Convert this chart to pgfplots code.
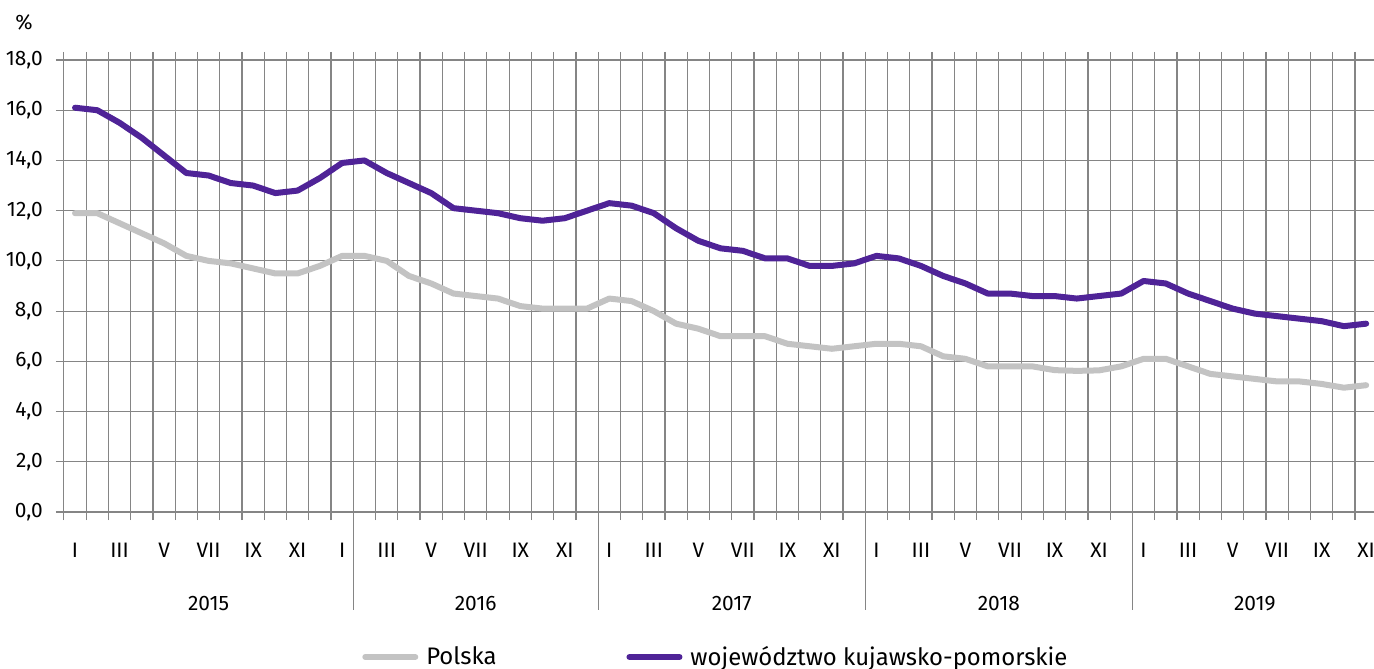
\documentclass[border=0pt]{standalone}
\usepackage{fontspec}
\setmainfont{Fira Sans}
\usepackage{pgfplots}
\usepackage{pgfplotstable}
\pgfplotsset{compat=1.18}
\definecolor{kpPurple}{HTML}{4F2397}
\definecolor{plGrey}{HTML}{C3C3C3}
\definecolor{gridGrey}{HTML}{858585}

% k = month index from I 2015; pl = Polska, kp = kujawsko-pomorskie
\pgfplotstableread{
k pl kp
0 11.9 16.1
1 11.9 16.0
2 11.5 15.5
3 11.1 14.9
4 10.7 14.2
5 10.2 13.5
6 10.0 13.4
7 9.9 13.1
8 9.7 13.0
9 9.5 12.7
10 9.5 12.8
11 9.8 13.3
12 10.2 13.9
13 10.2 14.0
14 10.0 13.5
15 9.4 13.1
16 9.1 12.7
17 8.7 12.1
18 8.6 12.0
19 8.5 11.9
20 8.2 11.7
21 8.1 11.6
22 8.1 11.7
23 8.1 12.0
24 8.5 12.3
25 8.4 12.2
26 8.0 11.9
27 7.5 11.3
28 7.3 10.8
29 7.0 10.5
30 7.0 10.4
31 7.0 10.1
32 6.7 10.1
33 6.6 9.8
34 6.5 9.8
35 6.6 9.9
36 6.7 10.2
37 6.7 10.1
38 6.6 9.8
39 6.2 9.4
40 6.1 9.1
41 5.8 8.7
42 5.8 8.7
43 5.8 8.6
44 5.65 8.6
45 5.62 8.5
46 5.64 8.6
47 5.8 8.7
48 6.1 9.2
49 6.1 9.1
50 5.8 8.7
51 5.5 8.4
52 5.4 8.1
53 5.3 7.9
54 5.2 7.8
55 5.2 7.7
56 5.1 7.6
57 4.95 7.4
58 5.05 7.5
}\unemp

\begin{document}
\begin{tikzpicture}
\begin{axis}[
    name=ax, at={(0,0)}, anchor=south west,
    scale only axis, width=656.7bp, height=226bp,
    xmin=-0.5, xmax=58.5, ymin=0, ymax=18,
    axis line style={draw=none},
    % ticks and grid on month boundaries, labels moved to month centres
    xtick={-0.5,0.5,...,58.5},
    xticklabels={I,{},III,{},V,{},VII,{},IX,{},XI,{},
                 I,{},III,{},V,{},VII,{},IX,{},XI,{},
                 I,{},III,{},V,{},VII,{},IX,{},XI,{},
                 I,{},III,{},V,{},VII,{},IX,{},XI,{},
                 I,{},III,{},V,{},VII,{},IX,{},XI,{}},
    xticklabel style={anchor=center, yshift=-15bp, xshift=5.565bp},
    xmajorgrids,
    ytick={0,2,...,18},
    ymajorgrids,
    tick align=outside,
    major tick length=4bp,
    tick style={gridGrey, line width=0.6bp},
    grid style={gridGrey, line width=0.6bp},
    tick label style={font=\fontsize{10.5}{12}\selectfont},
    yticklabel style={xshift=-3bp},
    /pgf/number format/assume math mode=true,
    yticklabel={\pgfmathprintnumber[fixed, fixed zerofill, precision=1, use comma]{\tick}},
    clip=false,
    legend columns=2,
    legend style={at={(axis description cs:0.2269,-0.3208)}, anchor=west, draw=none, fill=none,
        inner sep=0pt, font=\fontsize{12}{14}\selectfont,
        /tikz/every odd column/.append style={column sep=2bp},
        /tikz/every even column/.append style={column sep=63bp}},
    legend cell align=left,
    legend image code/.code={\draw[#1] (0bp,0bp) -- (25bp,0bp);},
]
\addplot[plGrey, line width=3bp, line join=round, line cap=round] table[x=k, y=pl] {\unemp};
\addlegendentry{Polska}
\addplot[kpPurple, line width=3bp, line join=round, line cap=round] table[x=k, y=kp] {\unemp};
\addlegendentry{województwo kujawsko-pomorskie}

\pgfplotsinvokeforeach{12.5,23.5,35.5,47.5}{
  \draw[gridGrey, line width=0.6bp] (axis cs:#1,0) -- ([yshift=-49bp]axis cs:#1,0);
}
\node[font=\fontsize{10.5}{12}\selectfont] at ([yshift=-46bp]axis cs:6,0) {2015};
\node[font=\fontsize{10.5}{12}\selectfont] at ([yshift=-46bp]axis cs:18,0) {2016};
\node[font=\fontsize{10.5}{12}\selectfont] at ([yshift=-46bp]axis cs:29.5,0) {2017};
\node[font=\fontsize{10.5}{12}\selectfont] at ([yshift=-46bp]axis cs:41.5,0) {2018};
\node[font=\fontsize{10.5}{12}\selectfont] at ([yshift=-46bp]axis cs:53,0) {2019};
\end{axis}
\node[anchor=west, inner sep=0pt, font=\fontsize{10.5}{12}\selectfont] at (-24.5bp,245bp) {\%};
\pgfresetboundingbox
\useasboundingbox (-31.95bp,-78.5bp) rectangle (655.05bp,256bp);
\end{tikzpicture}
\end{document}
